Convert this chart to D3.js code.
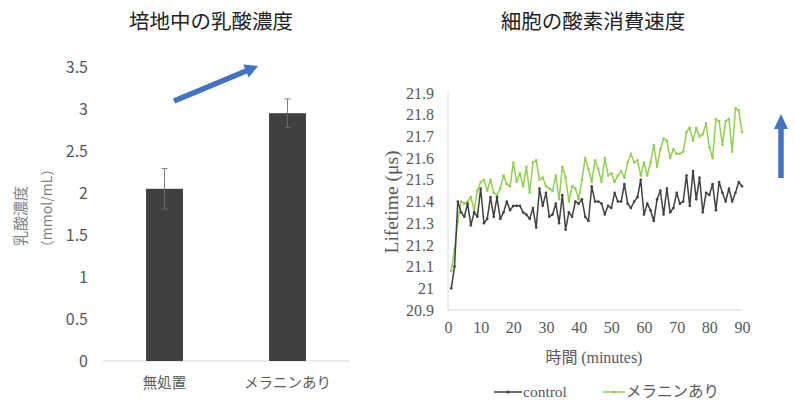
<!DOCTYPE html>
<html><head><meta charset="utf-8">
<script src="https://cdn.jsdelivr.net/npm/d3@7"></script>
<style>body{margin:0;background:#fff}svg{display:block}</style>
</head><body>
<svg id="c" width="795" height="400"></svg>
<script>
// ---- Left chart data ----
const barCategories = ["無処置", "メラニンあり"];
const barValues = [2.05, 2.95];
const barErrors = [0.24, 0.17];
const barTicks = [0, 0.5, 1, 1.5, 2, 2.5, 3, 3.5];

// ---- Right chart data ----
const minutes = d3.range(1, 91);
const controlValues = [21.00,21.10,21.40,21.35,21.33,21.39,21.29,21.35,21.33,21.46,
21.30,21.32,21.42,21.33,21.42,21.32,21.35,21.40,21.36,21.38,
21.38,21.38,21.35,21.34,21.32,21.37,21.28,21.46,21.38,21.44,
21.33,21.34,21.39,21.30,21.43,21.27,21.35,21.33,21.40,21.39,
21.41,21.33,21.31,21.47,21.40,21.40,21.39,21.34,21.38,21.37,
21.44,21.40,21.40,21.48,21.39,21.37,21.40,21.42,21.50,21.34,
21.39,21.36,21.31,21.41,21.45,21.34,21.46,21.35,21.37,21.44,
21.39,21.40,21.52,21.38,21.54,21.41,21.51,21.35,21.44,21.43,
21.48,21.36,21.49,21.44,21.40,21.46,21.40,21.44,21.49,21.47];
const melaninValues = [21.08,21.18,21.31,21.40,21.39,21.40,21.42,21.36,21.45,21.49,
21.50,21.45,21.50,21.44,21.43,21.46,21.52,21.48,21.47,21.58,
21.49,21.53,21.47,21.56,21.44,21.58,21.59,21.50,21.51,21.47,
21.46,21.45,21.52,21.41,21.56,21.51,21.40,21.47,21.46,21.41,
21.50,21.60,21.55,21.49,21.59,21.55,21.49,21.60,21.52,21.53,
21.49,21.52,21.54,21.51,21.58,21.62,21.58,21.59,21.52,21.58,
21.52,21.58,21.66,21.56,21.64,21.69,21.68,21.60,21.64,21.62,
21.62,21.63,21.72,21.74,21.68,21.74,21.70,21.71,21.76,21.65,
21.60,21.78,21.77,21.66,21.77,21.78,21.63,21.83,21.82,21.72];
const lineTicksY = [20.9,21.0,21.1,21.2,21.3,21.4,21.5,21.6,21.7,21.8,21.9];
const lineTicksX = [0,10,20,30,40,50,60,70,80,90];
const seriesNames = ["control", "メラニンあり"];

const svg = d3.select("#c");
const sans = "'Noto Sans CJK JP', 'Noto Sans', sans-serif";
const serif = "'Liberation Serif', 'DejaVu Serif', serif";
const grey = "#595959";
const axisGrey = "#d9d9d9";
const blue = "#4472C4";

// ================= LEFT CHART =================
const xb = d3.scaleBand().domain(barCategories).range([103, 349]).paddingInner(0.7).paddingOuter(0.35);
const yb = d3.scaleLinear().domain([0, 3.5]).range([361, 67]);

svg.append("text").attr("x", 211).attr("y", 29).attr("text-anchor", "middle")
  .style("font-family", sans).style("font-size", "20.5px").attr("fill", "#222").text("培地中の乳酸濃度");

// y tick labels
const gyL = svg.append("g").attr("transform", "translate(88,0)")
  .call(d3.axisLeft(yb).tickValues(barTicks).tickSize(0).tickPadding(0).tickFormat(d3.format("")));
gyL.select(".domain").remove();
gyL.selectAll("text").style("font-family", sans).style("font-size", "16px").attr("fill", grey);

// baseline
const gxL = svg.append("g").attr("transform", "translate(0,361)")
  .call(d3.axisBottom(xb).tickSize(0).tickPadding(17));
gxL.select(".domain").attr("stroke", axisGrey).attr("d", "M103,0H349");
gxL.selectAll("text").style("font-family", sans).style("font-size", "14.5px").attr("fill", grey);

// bars
svg.append("g").selectAll("rect").data(barCategories).join("rect")
  .attr("x", d => xb(d)).attr("width", xb.bandwidth())
  .attr("y", (d, i) => yb(barValues[i])).attr("height", (d, i) => yb(0) - yb(barValues[i]))
  .attr("fill", "#404040");
// error bars
const eb = svg.append("g");
barCategories.forEach((c, i) => {
  const cx = xb(c) + xb.bandwidth() / 2;
  const hi = yb(barValues[i] + barErrors[i]), lo = yb(barValues[i] - barErrors[i]), top = yb(barValues[i]);
  eb.append("line").attr("x1", cx).attr("x2", cx).attr("y1", hi).attr("y2", top).attr("stroke", "#7f7f7f").attr("stroke-width", 1);
  eb.append("line").attr("x1", cx).attr("x2", cx).attr("y1", top).attr("y2", lo).attr("stroke", "#6a6a6a").attr("stroke-width", 1);
  eb.append("line").attr("x1", cx - 3).attr("x2", cx + 3).attr("y1", hi).attr("y2", hi).attr("stroke", "#7f7f7f");
  eb.append("line").attr("x1", cx - 3).attr("x2", cx + 3).attr("y1", lo).attr("y2", lo).attr("stroke", "#6a6a6a");
});

// y label (two lines, rotated)
svg.append("text").attr("transform", "translate(26,216) rotate(-90)").attr("text-anchor", "middle")
  .style("font-family", sans).style("font-size", "15px").attr("fill", "#7f7f7f").text("乳酸濃度");
svg.append("text").attr("transform", "translate(52,208) rotate(-90)").attr("text-anchor", "middle")
  .style("font-family", sans).style("font-size", "14px").attr("fill", "#7f7f7f").text("（mmol/mL）");

// blue arrow annotations
function arrow(x1, y1, x2, y2, w, hw, hl) {
  const dx = x2 - x1, dy = y2 - y1, L = Math.hypot(dx, dy);
  const ux = dx / L, uy = dy / L, nx = -uy, ny = ux;
  const bx = x2 - ux * hl, by = y2 - uy * hl;
  const pts = [
    [x1 + nx * w / 2, y1 + ny * w / 2], [bx + nx * w / 2, by + ny * w / 2], [bx + nx * hw / 2, by + ny * hw / 2],
    [x2, y2], [bx - nx * hw / 2, by - ny * hw / 2], [bx - nx * w / 2, by - ny * w / 2], [x1 - nx * w / 2, y1 - ny * w / 2]
  ];
  svg.append("path").attr("d", d3.line()(pts) + "Z").attr("fill", blue);
}
arrow(174, 101, 258, 66, 5.5, 14, 13);
arrow(781, 178, 781, 114, 5.5, 14, 15);

// ================= RIGHT CHART =================
const xl = d3.scaleLinear().domain([0, 90]).range([448, 742]);
const yl = d3.scaleLinear().domain([20.9, 21.9]).range([310, 93]);

svg.append("text").attr("x", 593).attr("y", 29).attr("text-anchor", "middle")
  .style("font-family", sans).style("font-size", "20.5px").attr("fill", "#222").text("細胞の酸素消費速度");

const gyR = svg.append("g").attr("transform", "translate(448,0)")
  .call(d3.axisLeft(yl).tickValues(lineTicksY).tickSize(0).tickPadding(14).tickFormat(d3.format("")));
gyR.select(".domain").attr("stroke", axisGrey).attr("d", "M0,93V310");
gyR.selectAll("text").style("font-family", serif).style("font-size", "16px").attr("fill", grey);

const gxR = svg.append("g").attr("transform", "translate(0,310)")
  .call(d3.axisBottom(xl).tickValues(lineTicksX).tickSize(0).tickPadding(12));
gxR.select(".domain").attr("stroke", axisGrey).attr("d", "M448,0H742");
gxR.selectAll("text").style("font-family", serif).style("font-size", "16px").attr("fill", grey);

// axis titles
const xt = svg.append("text").attr("x", 594).attr("y", 363).attr("text-anchor", "middle")
  .style("font-size", "16px").attr("fill", grey);
xt.append("tspan").style("font-family", sans).text("時間 ");
xt.append("tspan").style("font-family", serif).text("(minutes)");
svg.append("text").attr("transform", "translate(398,202) rotate(-90)").attr("text-anchor", "middle")
  .style("font-family", serif).style("font-size", "19.5px").attr("fill", grey).text("Lifetime (μs)");

const series = [
  { name: seriesNames[0], values: controlValues, color: "#404040" },
  { name: seriesNames[1], values: melaninValues, color: "#92D050" }
];
const line = d3.line().x((d, i) => xl(minutes[i])).y(d => yl(d));
series.slice().reverse().forEach(s => {
  svg.append("path").datum(s.values).attr("d", line).attr("fill", "none")
    .attr("stroke", s.color).attr("stroke-width", 1.5).attr("stroke-linejoin", "round");
  svg.append("g").selectAll("circle").data(s.values).join("circle")
    .attr("cx", (d, i) => xl(minutes[i])).attr("cy", d => yl(d)).attr("r", 1.3).attr("fill", s.color);
});

// legend
const legX = [494, 603];
const legW = [28, 22];
series.forEach((s, i) => {
  const g = svg.append("g").attr("transform", `translate(${legX[i]},392)`);
  g.append("line").attr("x1", 0).attr("x2", legW[i]).attr("y1", 0).attr("y2", 0).attr("stroke", s.color).attr("stroke-width", 1.5);
  g.append("circle").attr("cx", legW[i] / 2).attr("cy", 0).attr("r", 1.6).attr("fill", s.color);
  g.append("text").attr("x", legW[i] + 1).attr("y", 5).style("font-family", i === 0 ? serif : sans)
    .style("font-size", "15.5px").attr("fill", grey).text(s.name);
});
</script>
</body></html>
